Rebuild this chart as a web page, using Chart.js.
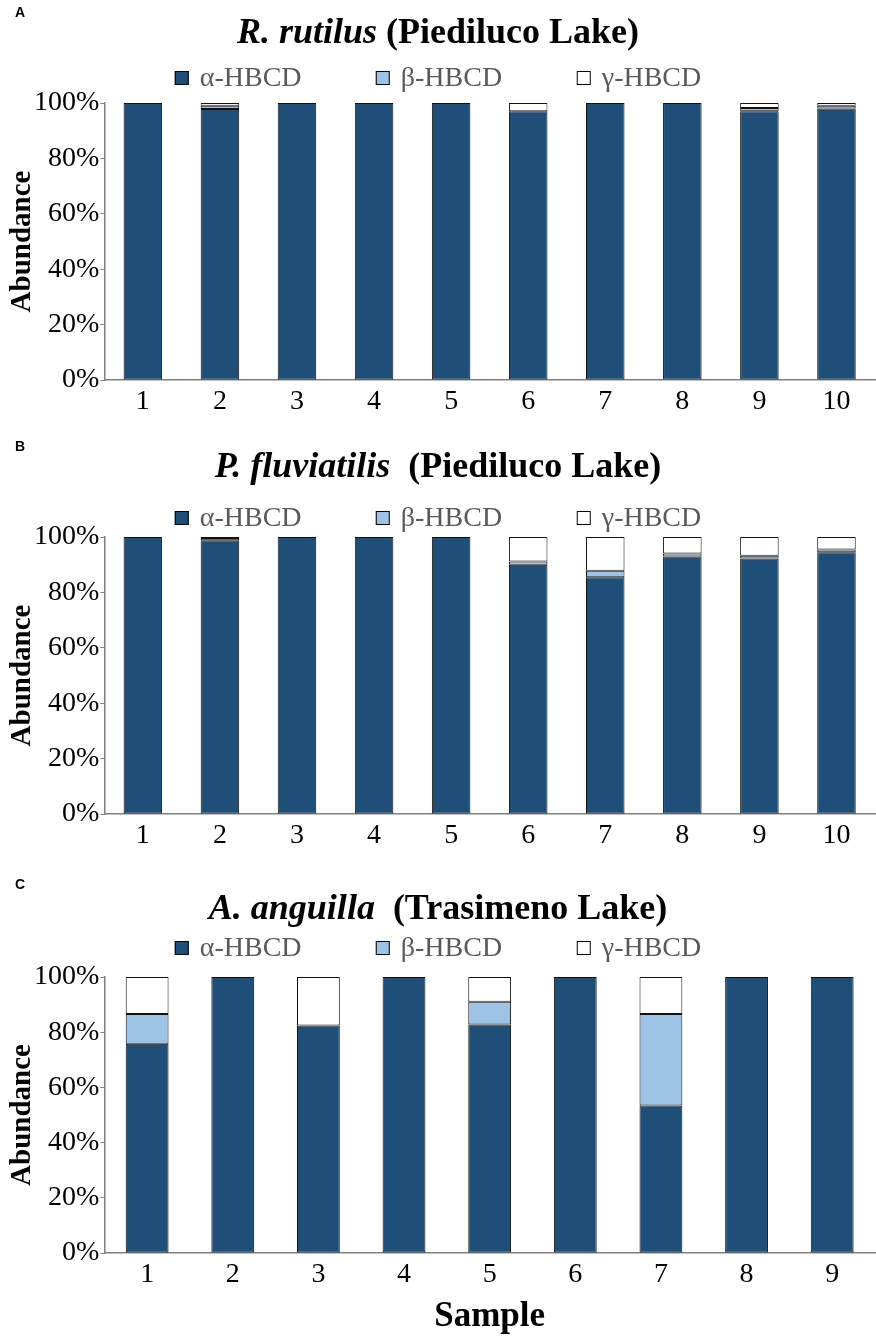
<!DOCTYPE html>
<html>
<head>
<meta charset="utf-8">
<script src="https://cdn.jsdelivr.net/npm/chart.js@4.4.1/dist/chart.umd.min.js"></script>
<style>
    body { margin: 0; background: #fff; }
    canvas { display: block; }
</style>
</head>
<body>
<canvas id="chart-a" width="876" height="434"></canvas>
<canvas id="chart-b" width="876" height="438"></canvas>
<canvas id="chart-c" width="876" height="467"></canvas>
<script>
// Data (% of total HBCD per sample)
const isomerLabels = ['α-HBCD', 'β-HBCD', 'γ-HBCD'];
const yTicks = [0, 20, 40, 60, 80, 100];

// A: R. rutilus (Piediluco Lake)
const samplesA = ['1', '2', '3', '4', '5', '6', '7', '8', '9', '10'];
const alphaA = [100, 97.8, 100, 100, 100, 97, 100, 100, 97, 98];
const betaA = [0, 1.2, 0, 0, 0, 0, 0, 0, 1.2, 1];
const gammaA = [0, 1, 0, 0, 0, 3, 0, 0, 1.8, 1];

// B: P. fluviatilis (Piediluco Lake)
const samplesB = ['1', '2', '3', '4', '5', '6', '7', '8', '9', '10'];
const alphaB = [100, 98.8, 100, 100, 100, 90, 85.5, 93, 92.2, 94.5];
const betaB = [0, 0.8, 0, 0, 0, 1.2, 2.3, 1, 1, 1];
const gammaB = [0, 0.4, 0, 0, 0, 8.8, 12.2, 6, 6.8, 4.5];

// C: A. anguilla (Trasimeno Lake)
const samplesC = ['1', '2', '3', '4', '5', '6', '7', '8', '9'];
const alphaC = [75.8, 100, 82.4, 100, 82.8, 100, 53.4, 100, 100];
const betaC = [10.8, 0, 0, 0, 8.2, 0, 33.2, 0, 0];
const gammaC = [13.4, 0, 17.6, 0, 9, 0, 13.4, 0, 0];

const isomerColors = ['#1F4E79', '#9DC3E6', '#FFFFFF'];
const serif = '"Liberation Serif", "Times New Roman", serif';
const axisGrey = '#808080';

// Draws panel letter, mixed italic/bold title and the legend row
const panelText = {
    id: 'panelText',
    afterDraw(chart, args, opts) {
        const ctx = chart.ctx;
        const w = chart.width;
        ctx.save();

        ctx.fillStyle = '#000';
        ctx.textBaseline = 'middle';
        ctx.textAlign = 'left';
        ctx.font = 'bold 14px "Liberation Sans", Arial, sans-serif';
        ctx.fillText(opts.letter, 15, 13);

        const italicFont = `italic bold 36px ${serif}`;
        const boldFont = `bold 36px ${serif}`;
        ctx.font = italicFont;
        const w1 = ctx.measureText(opts.species).width;
        ctx.font = boldFont;
        const w2 = ctx.measureText(opts.place).width;
        let x = w / 2 - (w1 + w2) / 2;
        ctx.font = italicFont;
        ctx.fillText(opts.species, x, opts.titleY);
        ctx.font = boldFont;
        ctx.fillText(opts.place, x + w1, opts.titleY);

        const step = 201;
        ctx.font = `28px ${serif}`;
        const lastW = 25 + ctx.measureText(chart.data.datasets[2].label).width;
        let lx = w / 2 - (step * 2 + lastW) / 2;
        chart.data.datasets.forEach(ds => {
            ctx.fillStyle = ds.backgroundColor;
            ctx.fillRect(lx, opts.legendY - 7, 14, 14);
            ctx.strokeStyle = '#000';
            ctx.lineWidth = 1;
            ctx.strokeRect(lx + 0.5, opts.legendY - 6.5, 13, 13);
            ctx.fillStyle = '#595959';
            ctx.fillText(ds.label, lx + 25, opts.legendY + 1);
            lx += step;
        });
        ctx.restore();
    }
};

function makeChart(id, samples, alpha, beta, gamma, text, pad, showSample) {
    const ctx = document.getElementById(id).getContext('2d');
    const series = [alpha, beta, gamma];
    return new Chart(ctx, {
        type: 'bar',
        data: {
            labels: samples,
            datasets: series.map((values, i) => ({
                label: isomerLabels[i],
                data: values,
                backgroundColor: isomerColors[i],
                borderColor: '#111',
                borderWidth: 1,
                borderSkipped: false,
                categoryPercentage: 1,
                barPercentage: 0.5
            }))
        },
        options: {
            responsive: false,
            animation: false,
            devicePixelRatio: 1,
            layout: { padding: pad },
            plugins: {
                legend: { display: false },
                tooltip: { enabled: false },
                panelText: text
            },
            scales: {
                x: {
                    stacked: true,
                    grid: { display: false, drawTicks: false },
                    border: { display: true, color: axisGrey, width: 1.5 },
                    ticks: {
                        color: '#000',
                        padding: 8,
                        font: { family: serif, size: 28, lineHeight: 1 }
                    },
                    title: {
                        display: showSample,
                        text: 'Sample',
                        color: '#000',
                        padding: { top: 2, bottom: 0 },
                        font: { family: serif, size: 35, weight: 'bold', lineHeight: 1 }
                    }
                },
                y: {
                    stacked: true,
                    min: 0,
                    max: 100,
                    afterBuildTicks: scale => {
                        scale.ticks = yTicks.map(v => ({ value: v }));
                    },
                    grid: { display: true, drawOnChartArea: false, drawTicks: true, tickLength: 4, color: axisGrey, lineWidth: 1 },
                    border: { display: true, color: axisGrey, width: 1.5 },
                    ticks: {
                        color: '#000',
                        padding: 1,
                        font: { family: serif, size: 28, lineHeight: 1 },
                        callback: v => v + '%'
                    },
                    title: {
                        display: true,
                        text: 'Abundance',
                        color: '#000',
                        padding: { top: 8, bottom: -4 },
                        font: { family: serif, size: 29, weight: 'bold', lineHeight: 1 }
                    }
                }
            }
        },
        plugins: [panelText]
    });
}

makeChart('chart-a', samplesA, alphaA, betaA, gammaA,
    { letter: 'A', species: 'R. rutilus', place: ' (Piediluco Lake)', titleY: 34, legendY: 78 },
    { top: 103, left: 0, right: 1, bottom: 10 }, false);

makeChart('chart-b', samplesB, alphaB, betaB, gammaB,
    { letter: 'B', species: 'P. fluviatilis', place: '  (Piediluco Lake)', titleY: 34, legendY: 84 },
    { top: 103, left: 0, right: 1, bottom: 14 }, false);

makeChart('chart-c', samplesC, alphaC, betaC, gammaC,
    { letter: 'C', species: 'A. anguilla', place: '  (Trasimeno Lake)', titleY: 38, legendY: 76 },
    { top: 105, left: 0, right: 1, bottom: 5 }, true);
</script>
</body>
</html>
